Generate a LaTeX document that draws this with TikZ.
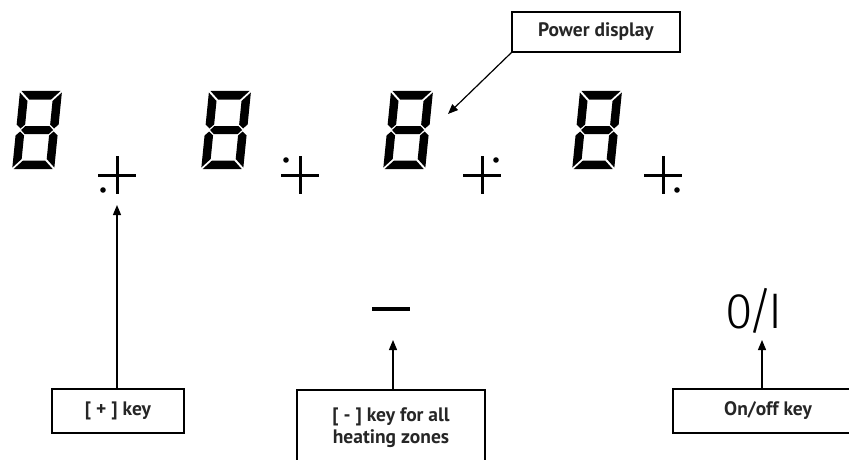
\documentclass[tikz,border=0pt]{standalone}
\usepackage{fontspec}
\setmainfont{PT Sans}
\newfontfamily\thinfont{Fira Sans Light}
\usetikzlibrary{arrows.meta,positioning}

\tikzset{
  segdigit/.pic={
    \begin{scope}[xslant=0.1]
      \fill (1.5,0) -- (40.5,0) -- (32,8.5) -- (10,8.5) -- cycle;
      \fill (0,1.5) -- (8.5,10) -- (8.5,33.5) -- (4.25,37.5) -- (0,33.5) -- cycle;
      \fill (42,1.5) -- (33.5,10) -- (33.5,33.5) -- (37.75,37.5) -- (42,33.5) -- cycle;
      \fill (5,39) -- (9,35) -- (33,35) -- (37,39) -- (33,43) -- (9,43) -- cycle;
      \fill (0,44.5) -- (4.25,40.5) -- (8.5,44.5) -- (8.5,68) -- (0,76.5) -- cycle;
      \fill (42,44.5) -- (37.75,40.5) -- (33.5,44.5) -- (33.5,68) -- (42,76.5) -- cycle;
      \fill (1.5,78) -- (40.5,78) -- (32,69.5) -- (10,69.5) -- cycle;
    \end{scope}
  },
  pluskey/.pic={
    \draw[line width=3pt] (-19,0) -- (19,0) (0,-19) -- (0,19);
  }
}

\begin{document}
\begin{tikzpicture}[x=1pt, y=-1pt, line width=1.2pt,
    every node/.style={font=\fontsize{19.5}{22}\selectfont\bfseries, text=black!85},
    keybox/.style={draw=black, inner sep=0pt},
    callout/.style={-{Triangle[length=10pt,width=8pt]}, line width=1.2pt}]
  \clip (0,0) rectangle (849,460);

  % power displays and [+] keys
  \pic at (20,91) {segdigit};
  \pic at (209,91) {segdigit};
  \pic at (391,91) {segdigit};
  \pic at (580,91) {segdigit};
  \pic at (117,175) {pluskey};
  \pic at (300,175) {pluskey};
  \pic at (482,175) {pluskey};
  \pic at (663,175) {pluskey};
  \fill (103,190) circle (2.8);
  \fill (286,160) circle (2.8);
  \fill (496,160) circle (2.8);
  \fill (677,190) circle (2.8);

  \draw[line width=3.5pt] (372,309) -- (410,309);
  \node[font=\thinfont\fontsize{50}{50}\selectfont, text=black, inner sep=0pt] (onoff) at (754,311) {0\kern-5pt/\kern-5pt I};

  \node[keybox, minimum width=168, minimum height=40] (power) at (596,32) {Power display};
  \node[keybox, minimum width=132, minimum height=44] (keyplus) at (118,411) {[ + ] key};
  \node[keybox, minimum width=188, minimum height=76, align=center] (keyminus) at (391,428) {[ - ] key for all\\heating zones};
  \node[keybox, minimum width=190, minimum height=44] (keyonoff) at (768,411) {On/off key};

  \coordinate (powertip) at (448,114);
  \coordinate (plustip) at (117,205);
  \coordinate (minustip) at (393,340);
  \coordinate (onofftip) at (762,340);
  \draw[callout] (power.south west) -- (powertip);
  \draw[callout] (keyplus.north -| plustip) -- (plustip);
  \draw[callout] (keyminus.north -| minustip) -- (minustip);
  \draw[callout] (keyonoff.north -| onofftip) -- (onofftip);
\end{tikzpicture}
\end{document}
